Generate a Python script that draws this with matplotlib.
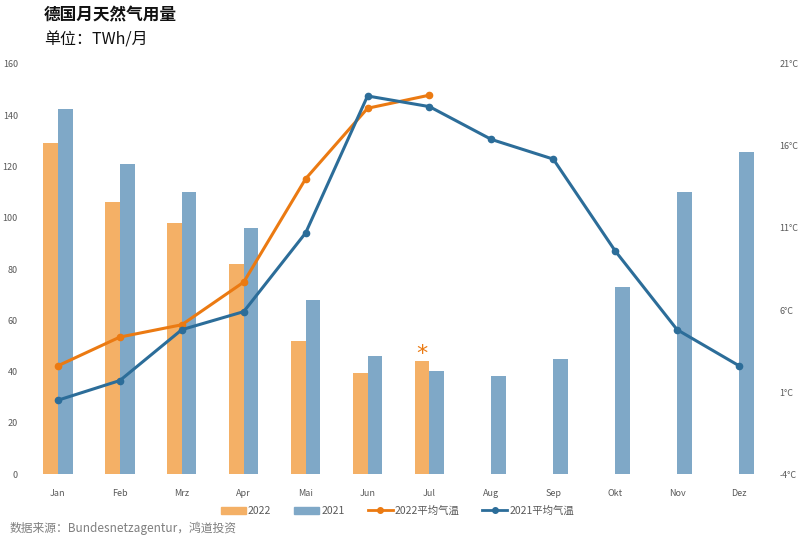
import matplotlib
matplotlib.use('Agg')
import matplotlib.pyplot as plt
import numpy as np
from matplotlib.lines import Line2D
from matplotlib.patches import Patch

plt.rcParams['font.family'] = ['Noto Sans CJK SC', 'DejaVu Sans']

months = ['Jan', 'Feb', 'Mrz', 'Apr', 'Mai', 'Jun', 'Jul', 'Aug', 'Sep', 'Okt', 'Nov', 'Dez']
gas_2022 = [129, 106, 98, 82, 52, 39.5, 44]
gas_2021 = [142.5, 121, 110, 96, 68, 46, 40.3, 38.3, 45, 73, 110, 125.5]
temp_2022 = [2.6, 4.35, 5.1, 7.7, 14.0, 18.3, 19.1]
temp_2021 = [0.5, 1.7, 4.8, 5.9, 10.7, 19.05, 18.4, 16.4, 15.2, 9.6, 4.8, 2.6]
temp_ticks = [-4, 1, 6, 11, 16, 21]

c_bar22 = '#F4B066'
c_bar21 = '#7FA8C7'
c_line22 = '#EB7A12'
c_line21 = '#2C6D99'
c_tick = '#595959'

fig = plt.figure(figsize=(8, 5.4), dpi=100)
ax = fig.add_axes([0.03375, 0.1222, 0.92875, 0.7593])
ax2 = ax.twinx()

x = np.arange(len(months))
w = 0.237
ax.bar(x[:len(gas_2022)] - w / 2, gas_2022, w, color=c_bar22, zorder=1)
ax.bar(x - w / 2 + w, gas_2021, w, color=c_bar21, zorder=1)
ax.set_ylim(0, 160)
ax.set_yticks(range(0, 161, 20))
ax.set_xlim(-0.5, len(months) - 0.5)
ax.set_xticks(x)
ax.set_xticklabels(months)

ax2.plot(x[:len(temp_2022)], temp_2022, color=c_line22, lw=2.2, marker='o', ms=4.5, zorder=3)
ax2.plot(x, temp_2021, color=c_line21, lw=2.2, marker='o', ms=4.5, zorder=3)
ax2.set_ylim(-4, 21)
ax2.set_yticks(temp_ticks)
ax2.set_yticklabels([f'{t}°C' for t in temp_ticks])

for a in (ax, ax2):
    for s in a.spines.values():
        s.set_visible(False)
    a.tick_params(length=0, labelsize=6.5, colors=c_tick)
ax.tick_params(axis='y', pad=6.5)
ax.tick_params(axis='x', pad=11)
ax2.tick_params(axis='y', pad=7)

ax.text(x[6] - w / 2, gas_2022[6] + 0.5, '*', color=c_line22, ha='center', va='baseline',
        fontsize=16, family='DejaVu Sans')

handles = [Patch(color=c_bar22, label='2022'),
           Patch(color=c_bar21, label='2021'),
           Line2D([], [], color=c_line22, lw=2, marker='o', ms=4, label='2022平均气温'),
           Line2D([], [], color=c_line21, lw=2, marker='o', ms=4, label='2021平均气温')]
leg = fig.legend(handles=handles, loc='center', bbox_to_anchor=(0.497, 0.054), ncol=4, frameon=False,
                 fontsize=7.5, handlelength=2.4, handleheight=0.6, columnspacing=2.2, handletextpad=0.2)
for t in leg.get_texts():
    t.set_color(c_tick)

fig.text(0.055, 0.972, '德国月天然气用量', fontsize=12, fontweight='bold', va='center', color='#111111')
fig.text(0.055, 0.926, '单位：TWh/月', fontsize=11.5, va='center', color='#111111')
fig.text(0.012, 0.022, '数据来源：Bundesnetzagentur，鸿道投资', fontsize=8.5, va='center', color='#7f7f7f')

fig.savefig('out.png', dpi=100)
